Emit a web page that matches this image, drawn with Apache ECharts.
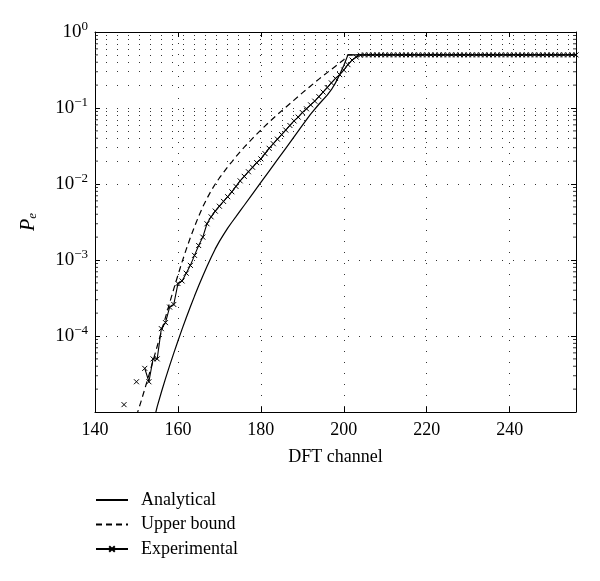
<!DOCTYPE html>
<html><head><meta charset="utf-8">
<script src="https://cdn.jsdelivr.net/npm/echarts@6/dist/echarts.min.js"></script>
<style>html,body{margin:0;padding:0;background:#fff}#c{width:600px;height:581px}</style>
</head><body><div id="c"></div>
<script>
// ---- data ----
const xTicks = [140, 160, 180, 200, 220, 240];
const yMajorTicks = [1e-5, 1e-4, 1e-3, 1e-2, 1e-1, 1];
const yMinorTicks = [
  2e-5,3e-5,4e-5,5e-5,6e-5,7e-5,8e-5,9e-5,
  2e-4,3e-4,4e-4,5e-4,6e-4,7e-4,8e-4,9e-4,
  2e-3,3e-3,4e-3,5e-3,6e-3,7e-3,8e-3,9e-3,
  2e-2,3e-2,4e-2,5e-2,6e-2,7e-2,8e-2,9e-2,
  0.2,0.3,0.4,0.5,0.6,0.7,0.8,0.9
];

const analyticalX = [154,155,156,157,158,159,160,161,162,163,164,165,166,167,168,169,170,171,172,173,174,175,176,178,180,182,184,186,188,190,192,194,196,197,198,199,200,201,256];
const analyticalY = [7.08e-6,1.175e-5,1.82e-5,2.75e-5,4.07e-5,5.96e-5,8.61e-5,1.23e-4,1.74e-4,2.43e-4,3.35e-4,4.57e-4,6.17e-4,8.22e-4,1.08e-3,1.40e-3,1.76e-3,2.16e-3,2.63e-3,3.14e-3,3.72e-3,4.42e-3,5.25e-3,7.41e-3,1.05e-2,1.48e-2,2.09e-2,2.95e-2,4.17e-2,5.89e-2,8.32e-2,0.112,0.148,0.174,0.214,0.275,0.363,0.5,0.5];

const upperX = [150,151,152,153,154,155,156,157,158,159,160,161,162,163,164,165,166,167,168,169,170,171,172,173,174,176,178,180,182,184,186,188,190,192,194,196,198,200,201,256];
const upperY = [8.91e-6,1.32e-5,2.00e-5,3.05e-5,4.73e-5,7.33e-5,1.135e-4,1.76e-4,2.72e-4,4.17e-4,6.31e-4,9.44e-4,1.38e-3,1.97e-3,2.75e-3,3.76e-3,5.01e-3,6.46e-3,8.13e-3,1.00e-2,1.20e-2,1.42e-2,1.68e-2,1.96e-2,2.29e-2,3.05e-2,3.98e-2,5.13e-2,6.53e-2,8.22e-2,0.102,0.127,0.158,0.195,0.240,0.292,0.355,0.432,0.5,0.5];

const expX = [147,148,149,150,151,152,153,154,155,156,157,158,159,160,161,162,163,164,165,166,167,168,169,170,171,172,173,174,175,176,177,178,179,180,181,182,183,184,185,186,187,188,189,190,191,192,193,194,195,196,197,198,199,200,201,202,203,204,
  205,206,207,208,209,210,211,212,213,214,215,216,217,218,219,220,221,222,223,224,225,226,227,228,229,230,231,232,233,234,235,236,237,238,239,240,241,242,243,244,245,246,247,248,249,250,251,252,253,254,255,256];
const expY = [1.25e-5,null,null,2.5e-5,null,3.75e-5,2.5e-5,5e-5,5e-5,1.25e-4,1.5e-4,2.4e-4,2.6e-4,4.9e-4,5.3e-4,6.7e-4,8.5e-4,1.15e-3,1.55e-3,2.0e-3,3.0e-3,3.7e-3,4.4e-3,5.1e-3,5.9e-3,6.8e-3,7.9e-3,9.3e-3,1.10e-2,1.26e-2,1.45e-2,1.66e-2,1.91e-2,2.14e-2,2.51e-2,2.95e-2,3.39e-2,3.89e-2,4.47e-2,5.13e-2,5.89e-2,6.76e-2,7.59e-2,8.71e-2,9.77e-2,0.110,0.123,0.141,0.162,0.186,0.214,0.245,0.275,0.316,0.372,0.427,0.468,0.495,
  0.5,0.5,0.5,0.5,0.5,0.5,0.5,0.5,0.5,0.5,0.5,0.5,0.5,0.5,0.5,0.5,0.5,0.5,0.5,0.5,0.5,0.5,0.5,0.5,0.5,0.5,0.5,0.5,0.5,0.5,0.5,0.5,0.5,0.5,0.5,0.5,0.5,0.5,0.5,0.5,0.5,0.5,0.5,0.5,0.5,0.5,0.5,0.5,0.5,0.5,0.5,0.5];

const names = ['Analytical', 'Upper bound', 'Experimental'];

// ---- chart ----
const FONT = '"Liberation Serif", "DejaVu Serif", serif';
const X_MIN = 140, X_MAX = 256;
const pair = (xs, ys) => xs.map((x, i) => [x, ys[i] == null ? '-' : ys[i]]);
const gridDots = { color: '#333', width: 1, type: [1, 10] };
const NOFILL = 'rgba(0,0,0,0)';

const chart = echarts.init(document.getElementById('c'), null, { renderer: 'canvas' });
chart.setOption({
  animation: false,
  backgroundColor: '#fff',
  grid: { left: 95, right: 24, top: 32, bottom: 169 },
  legend: {
    data: names,
    orient: 'vertical',
    left: 95, top: 491, padding: 0,
    itemWidth: 32, itemHeight: 7, itemGap: 6.5,
    textStyle: { fontFamily: FONT, fontSize: 18, color: '#000', padding: [0, 0, 0, 8] },
    inactiveColor: '#000'
  },
  xAxis: [{
    type: 'value', min: X_MIN, max: X_MAX, interval: 20,
    name: 'DFT channel', nameLocation: 'middle', nameGap: 36,
    nameTextStyle: { fontFamily: FONT, fontSize: 18, color: '#000' },
    axisLine: { show: true, lineStyle: { color: '#000', width: 1 } },
    axisTick: { show: true, inside: true, length: 5, lineStyle: { color: '#000' } },
    axisLabel: {
      fontFamily: FONT, fontSize: 18, color: '#000', margin: 9,
      showMaxLabel: false,
      formatter: v => (xTicks.indexOf(v) >= 0 ? String(v) : '')
    },
    splitLine: { show: true, lineStyle: gridDots }
  }, {
    type: 'value', min: X_MIN, max: X_MAX, interval: 20, position: 'top',
    axisLine: { show: true, lineStyle: { color: '#000', width: 1 } },
    axisTick: { show: true, inside: true, length: 5, lineStyle: { color: '#000' } },
    axisLabel: { show: false },
    splitLine: { show: false }
  }],
  yAxis: [{
    type: 'log', logBase: 10, min: 1e-5, max: 1, interval: 1,
    name: '{p|P}{s|e}', nameLocation: 'middle', nameGap: 56, nameRotate: 90,
    nameTextStyle: {
      rich: {
        p: { fontFamily: FONT, fontStyle: 'italic', fontSize: 20, color: '#000', lineHeight: 24, verticalAlign: 'bottom' },
        s: { fontFamily: FONT, fontStyle: 'italic', fontSize: 13, color: '#000', lineHeight: 16, verticalAlign: 'bottom' }
      }
    },
    axisLine: { show: true, lineStyle: { color: '#000', width: 1 } },
    axisTick: { show: true, inside: true, length: 5, lineStyle: { color: '#000' } },
    axisLabel: {
      margin: 7, showMinLabel: false,
      formatter: v => {
        const e = Math.round(Math.log10(v));
        return '{a|10}{b|' + (e < 0 ? '\u2212' + (-e) : String(e)) + '}';
      },
      rich: {
        a: { fontFamily: FONT, fontSize: 19, color: '#000', lineHeight: 24, verticalAlign: 'middle' },
        b: { fontFamily: FONT, fontSize: 13, color: '#000', lineHeight: 24, verticalAlign: 'top' }
      }
    },
    splitLine: { show: true, lineStyle: gridDots }
  }, {
    type: 'log', logBase: 10, min: 1e-5, max: 1, interval: 1, position: 'right',
    axisLine: { show: true, lineStyle: { color: '#000', width: 1 } },
    axisTick: { show: true, inside: true, length: 5, lineStyle: { color: '#000' } },
    axisLabel: { show: false },
    splitLine: { show: false }
  }],
  series: [{
    name: 'Analytical', type: 'line',
    data: pair(analyticalX, analyticalY),
    showSymbol: false, symbol: 'none',
    lineStyle: { color: '#000', width: 1.2, type: 'solid' },
    itemStyle: { color: NOFILL, borderColor: NOFILL },
    markLine: {
      silent: true, symbol: ['none', 'none'], label: { show: false },
      lineStyle: gridDots, animation: false,
      emphasis: { disabled: true },
      data: yMinorTicks.map(v => ({ yAxis: v }))
    },
    z: 3
  }, {
    name: 'Upper bound', type: 'line',
    data: pair(upperX, upperY),
    showSymbol: false, symbol: 'none',
    lineStyle: { color: '#000', width: 1.2, type: [6, 4] },
    itemStyle: { color: NOFILL, borderColor: NOFILL },
    z: 3
  }, {
    name: 'Experimental', type: 'line',
    data: pair(expX, expY),
    connectNulls: false,
    symbol: 'path://M0,0L10,10M10,0L0,10', symbolSize: 5, showSymbol: true,
    lineStyle: { color: '#000', width: 1.1 },
    itemStyle: { color: '#000', borderColor: '#000', borderWidth: 1 },
    z: 4
  }, {
    name: 'minorTicksLeft', type: 'scatter', silent: true, clip: false,
    data: yMinorTicks.map(v => [X_MIN, v]),
    symbol: 'rect', symbolSize: [3, 1], symbolOffset: [1.5, 0],
    itemStyle: { color: '#000' }, z: 5
  }, {
    name: 'minorTicksRight', type: 'scatter', silent: true, clip: false,
    data: yMinorTicks.map(v => [X_MAX, v]),
    symbol: 'rect', symbolSize: [3, 1], symbolOffset: [-1.5, 0],
    itemStyle: { color: '#000' }, z: 5
  }]
});
</script>
</body></html>
